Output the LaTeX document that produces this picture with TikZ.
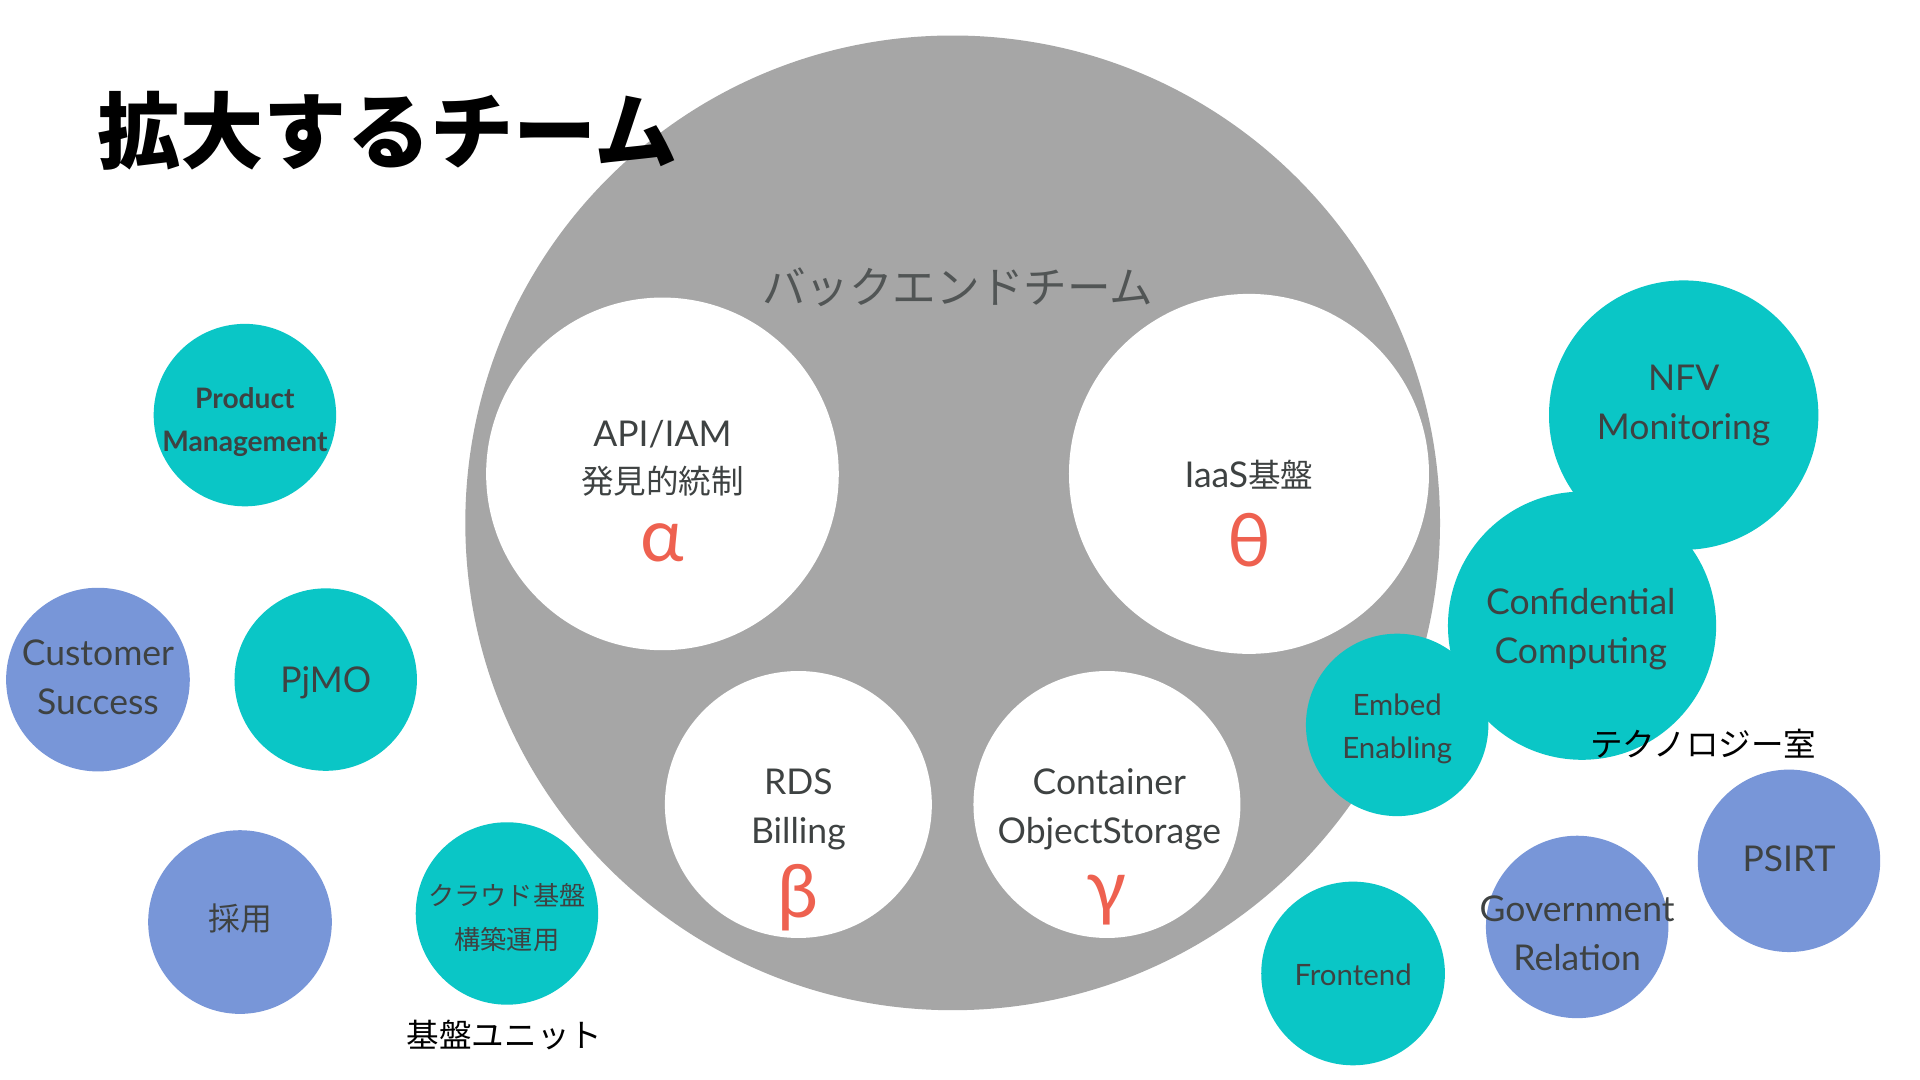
\documentclass[tikz,border=0pt]{standalone}
\usepackage{fontspec}
\setmainfont{Lato}
\newfontfamily\jp{Noto Sans CJK JP}
\definecolor{bggray}{HTML}{A6A6A6}
\definecolor{teal}{HTML}{0AC6C6}
\definecolor{blu}{HTML}{7896D8}
\definecolor{greekred}{HTML}{EE6150}
\definecolor{txtgray}{HTML}{3E4242}
\begin{document}
\begin{tikzpicture}[x=0.5pt,y=-0.5pt,
  disc/.style={circle, inner sep=0pt, minimum size=#1},
  tealdisc/.style={disc=#1, fill=teal},
  bludisc/.style={disc=#1, fill=blu},
  whitedisc/.style={disc=#1, fill=white},
  txt/.style={text=txtgray, align=center, inner sep=0pt},
  norm/.style={txt, font=\fontsize{14.5}{20}\selectfont},
  small/.style={txt, font=\fontsize{12}{17.5}\selectfont},
  greek/.style={text=greekred, inner sep=0pt, font=\fontsize{30}{30}\selectfont},
  lbl/.style={text=black, inner sep=0pt, font=\jp\fontsize{13.3}{16}\selectfont}]
\useasboundingbox (0,0) rectangle (1568,882);
\fill[white] (0,0) rectangle (1568,882);

% big backend circle
\node[disc=398pt, fill=bggray] (back) at (778,427) {};
\node[whitedisc=144pt] (alpha) at (541,387) {};
\node[whitedisc=147pt] (theta) at (1020,387) {};
\node[whitedisc=109pt] (beta) at (652,657) {};
\node[whitedisc=109pt] (gamma) at (904,657) {};

% outer circles
\node[tealdisc=74.5pt] (pm) at (200,339) {};
\node[bludisc=75pt] (cs) at (80,555) {};
\node[tealdisc=74.5pt] (pjmo) at (266,555) {};
\node[bludisc=75pt] (saiyo) at (196,753) {};
\node[tealdisc=74.5pt] (cloud) at (414,746) {};
\node[tealdisc=110pt] (nfv) at (1375,339) {};
\node[tealdisc=109.5pt] (conf) at (1292,511) {};
\node[tealdisc=74.5pt] (embed) at (1141,592) {};
\node[bludisc=74.5pt] (psirt) at (1461,703) {};
\node[bludisc=74.5pt] (gov) at (1288,757) {};
\node[tealdisc=75pt] (front) at (1105,795) {};

% backend texts
\node[txt, text=txtgray!90, font=\jp\fontsize{17.8}{20}\selectfont] (backT) at (782,235) {バックエンドチーム};
\node[norm] (alphaT1) at (541,355) {API/IAM};
\node[txt, font=\jp\fontsize{13.3}{16}\selectfont] (alphaT2) at (541,393) {発見的統制};
\node[greek] (alphaG) at (541,443) {α};
\node[norm] (thetaT) at (1020,388) {IaaS{\jp\fontsize{13.3}{16}\selectfont 基盤}};
\node[greek] (thetaG) at (1020,441) {θ};
\node[norm] (betaT) at (652,661) {RDS\\Billing};
\node[greek] (betaG) at (652,733) {β};
\node[norm] (gammaT) at (906,661) {Container\\ObjectStorage};
\node[greek] (gammaG) at (904,735) {γ};

% outer texts
\node[txt, font=\bfseries\fontsize{11.5}{17.5}\selectfont] (pmT) at (200,345) {Product\\Management};
\node[norm] (csT) at (80,553) {Customer\\Success};
\node[norm] (pjmoT) at (266,558) {PjMO};
\node[txt, font=\jp\fontsize{13}{16}\selectfont] (saiyoT) at (196,750) {採用};
\node[txt, font=\jp\fontsize{10.7}{18}\selectfont] (cloudT) at (414,749) {クラウド基盤\\構築運用};
\node[norm] (nfvT) at (1375,331) {NFV\\Monitoring};
\node[norm] (confT) at (1291,514) {Confidential\\Computing};
\node[small] (embedT) at (1141,595) {Embed\\Enabling};
\node[norm] (psirtT) at (1461,701) {PSIRT};
\node[norm] (govT) at (1288,762) {Government\\Relation};
\node[small] (frontT) at (1105,796) {Frontend};

% group labels
\node[lbl] (kiban) at (412,845) {基盤ユニット};
\node[lbl] (tech) at (1391,607) {テクノロジー室};

% title
\node[anchor=west, inner sep=0pt, text=black, font=\jp\bfseries\fontsize{34}{36}\selectfont] (title) at (79,107) {拡大するチーム};
\end{tikzpicture}
\end{document}
